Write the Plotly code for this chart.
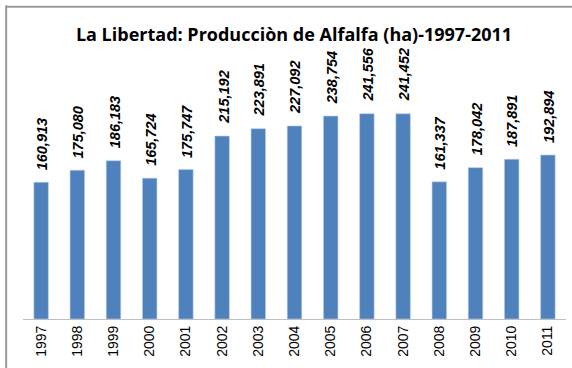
import plotly.graph_objects as go

# Alfalfa area (ha) in La Libertad, 1997-2011
years = ["1997", "1998", "1999", "2000", "2001", "2002", "2003", "2004",
         "2005", "2006", "2007", "2008", "2009", "2010", "2011"]
hectares = [160913, 175080, 186183, 165724, 175747, 215192, 223891, 227092,
            238754, 241556, 241452, 161337, 178042, 187891, 192894]
labels = [f"{v:,}" for v in hectares]

fig = go.Figure()
fig.add_trace(go.Bar(
    x=years,
    y=hectares,
    width=0.4,
    marker=dict(color="#4F81BD", line=dict(color="#B9CDE5", width=0.6)),
    hoverinfo="x+y",
))

# Vertical value labels above each bar (category index on the x axis)
for i, (val, lab) in enumerate(zip(hectares, labels)):
    fig.add_annotation(
        x=i, y=val, xref="x", yref="y",
        text=f"<b><i>{lab}</i></b>",
        showarrow=False,
        textangle=-90,
        xanchor="center", yanchor="bottom",
        xshift=1, yshift=10,
        font=dict(family="Liberation Sans", size=14.5, color="#000000"),
    )

fig.update_layout(
    width=572,
    height=368,
    margin=dict(l=23, r=6, t=64, b=49),
    paper_bgcolor="white",
    plot_bgcolor="white",
    showlegend=False,
    title=dict(
        text="<b>La Libertad: Producciòn de Alfalfa (ha)-1997-2011</b>",
        x=0.514, xanchor="center", y=0.905, yanchor="middle",
        font=dict(family="Open Sans", size=18, color="#000000"),
    ),
    xaxis=dict(
        type="category",
        tickangle=-90,
        showline=True, linecolor="#BFBFBF", linewidth=1,
        ticks="", showgrid=False,
        tickfont=dict(family="Liberation Sans", size=14, color="#000000"),
    ),
    yaxis=dict(
        range=[0, 300000],
        visible=False,
        showgrid=False,
    ),
)

# Chart frame
fig.add_shape(type="line", xref="paper", yref="paper",
              x0=-0.031, x1=-0.031, y0=-0.3, y1=1.23,
              line=dict(color="#9A9A9A", width=2))
fig.add_shape(type="line", xref="paper", yref="paper",
              x0=-0.031, x1=1.05, y0=1.225, y1=1.225,
              line=dict(color="#9A9A9A", width=2))

fig.write_html("out.html")
